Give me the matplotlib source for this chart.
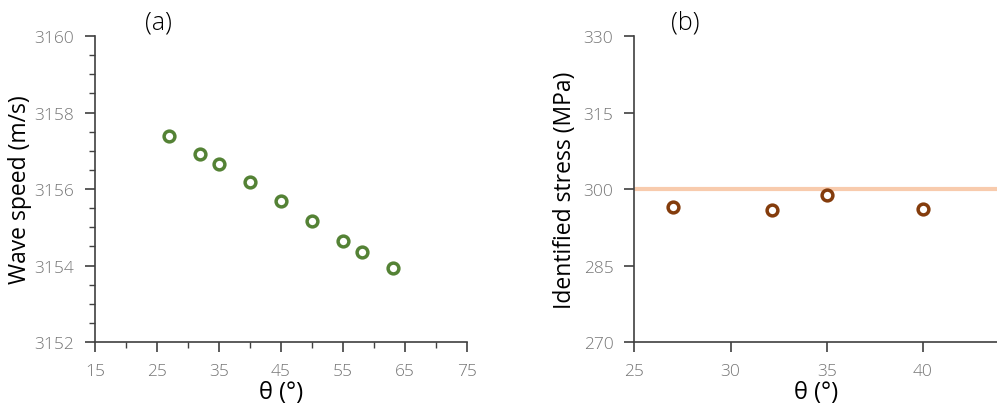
import matplotlib
matplotlib.use('Agg')
import matplotlib.pyplot as plt
from matplotlib.ticker import MultipleLocator, FixedLocator

plt.rcParams['font.family'] = ['Open Sans', 'DejaVu Sans']
plt.rcParams['font.weight'] = 'light'

# --- data (a): wave speed vs angle --- #
theta_a = [27, 32, 35, 40, 45, 50, 55, 58, 63]
speed = [3157.38, 3156.92, 3156.65, 3156.19, 3155.68, 3155.16, 3154.63, 3154.36, 3153.93]

# --- data (b): identified stress vs angle --- #
theta_b = [27, 32.15, 35, 40]
stress = [296.5, 295.9, 298.8, 296.1]
true_stress = 300

theta_a_ticks = [15, 25, 35, 45, 55, 65, 75]

tick_color = '#767676'
spine_color = '#404040'


def style_axes(ax):
	for side in ['top', 'right']:
		ax.spines[side].set_visible(False)
	for side in ['left', 'bottom']:
		ax.spines[side].set_color(spine_color)
		ax.spines[side].set_linewidth(1.2)
	ax.tick_params(which='major', direction='out', length=7, width=1.2,
				   color=spine_color, labelcolor=tick_color, labelsize=12.5, pad=8)
	ax.tick_params(which='minor', direction='out', length=4, width=1.0, color=spine_color)


fig = plt.figure(figsize=(9.97, 4.1), dpi=100)

# --- panel (a) --- #
ax1 = fig.add_axes([0.0953, 0.1634, 0.3731, 0.7463])
ax1.scatter(theta_a, speed, s=60, facecolor='white', edgecolor='#548235', linewidth=2.5, zorder=3)
ax1.set_xlim(15, 75)
ax1.set_ylim(3152, 3160)
ax1.xaxis.set_major_locator(FixedLocator(theta_a_ticks))
ax1.xaxis.set_minor_locator(MultipleLocator(5))
ax1.yaxis.set_major_locator(MultipleLocator(2))
ax1.yaxis.set_minor_locator(MultipleLocator(0.5))
style_axes(ax1)
ax1.set_xlabel('θ (°)', fontsize=17, labelpad=1)
ax1.set_ylabel('Wave speed (m/s)', fontsize=16.5, labelpad=2)
ax1.text(0.17, 1.005, '(a)', transform=ax1.transAxes, fontsize=18, va='bottom', ha='center')

# --- panel (b) --- #
ax2 = fig.add_axes([0.6362, 0.1634, 0.3638, 0.7463])
ax2.axhline(true_stress, color='#f8cbad', linewidth=3, zorder=1)
ax2.scatter(theta_b, stress, s=60, facecolor='white', edgecolor='#843c0c', linewidth=2.5, zorder=3)
ax2.set_xlim(25, 43.85)
ax2.set_ylim(270, 330)
ax2.xaxis.set_major_locator(MultipleLocator(5))
ax2.yaxis.set_major_locator(MultipleLocator(15))
style_axes(ax2)
ax2.set_xlabel('θ (°)', fontsize=17, labelpad=1)
ax2.set_ylabel('Identified stress (MPa)', fontsize=16.5, labelpad=5)
ax2.text(0.14, 1.005, '(b)', transform=ax2.transAxes, fontsize=18, va='bottom', ha='center')

fig.savefig('out.png', dpi=100)
